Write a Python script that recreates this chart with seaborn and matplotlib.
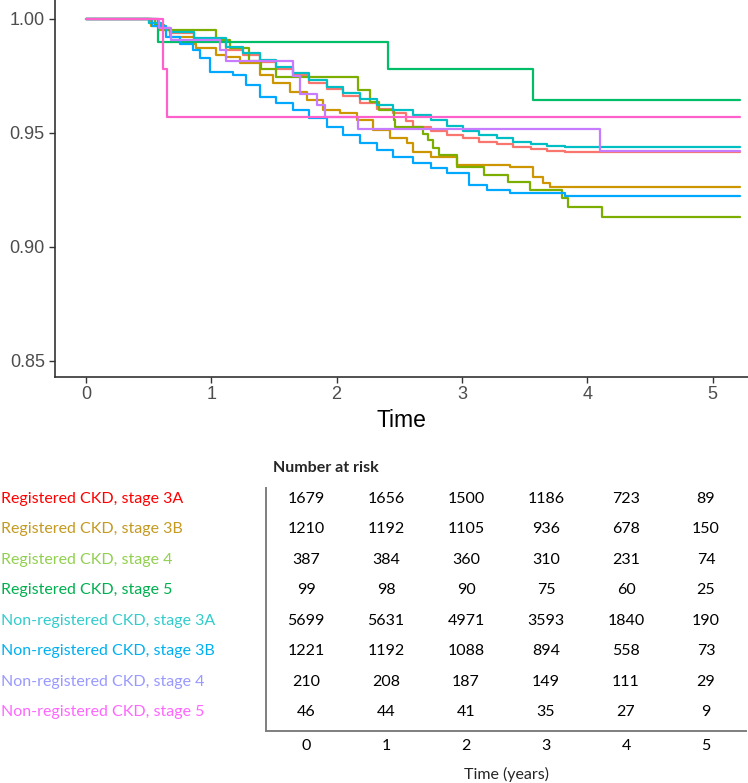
import numpy as np
import pandas as pd
import matplotlib
matplotlib.use("Agg")
import matplotlib.pyplot as plt
import matplotlib.transforms as mtransforms
import seaborn as sns

# ===============================
# Donnees
# ===============================
groups = [
    "Registered CKD, stage 3A",
    "Registered CKD, stage 3B",
    "Registered CKD, stage 4",
    "Registered CKD, stage 5",
    "Non-registered CKD, stage 3A",
    "Non-registered CKD, stage 3B",
    "Non-registered CKD, stage 4",
    "Non-registered CKD, stage 5",
]
line_colors = ["#F8766D", "#CD9600", "#7CAE00", "#00BE67",
               "#00BFC4", "#00A9FF", "#C77CFF", "#FF61CC"]
label_colors = ["#FF0000", "#C49A20", "#92D050", "#00B050",
                "#33CCCC", "#00B0F0", "#9999FF", "#FF66FF"]

t_end = 5.22

reg3a_t = [0, 0.50, 0.60, 0.67, 0.86, 1.12, 1.25, 1.39, 1.52, 1.65, 1.78, 1.92, 2.05, 2.19,
           2.32, 2.45, 2.55, 2.61, 2.75, 2.88, 3.01, 3.14, 3.28, 3.41, 3.55, 3.68, 3.82]
reg3a_s = [1.0, 0.998, 0.996, 0.9936, 0.9907, 0.9863, 0.984, 0.9812, 0.978, 0.9753, 0.972,
           0.969, 0.966, 0.9629, 0.9605, 0.9585, 0.955, 0.9527, 0.951, 0.949, 0.9475,
           0.9461, 0.945, 0.9439, 0.943, 0.9422, 0.9417]

reg3b_t = [0, 0.52, 0.58, 0.67, 0.86, 0.88, 1.04, 1.12, 1.23, 1.39, 1.49, 1.63, 1.76, 1.89,
           2.03, 2.16, 2.29, 2.43, 2.56, 2.61, 2.75, 2.96, 3.38, 3.57, 3.65, 3.70]
reg3b_s = [1.0, 0.997, 0.995, 0.992, 0.989, 0.987, 0.984, 0.9834, 0.9804, 0.9753, 0.9717,
           0.968, 0.9644, 0.960, 0.9585, 0.9556, 0.9512, 0.9476, 0.9454, 0.9417, 0.9395,
           0.936, 0.935, 0.9308, 0.9279, 0.9264]

reg4_t = [0, 0.55, 0.62, 1.04, 1.15, 1.30, 1.40, 1.52, 2.17, 2.27, 2.34, 2.46, 2.47, 2.69,
          2.73, 2.77, 2.82, 2.96, 3.18, 3.37, 3.54, 3.80, 3.85, 4.12]
reg4_s = [1.0, 0.9974, 0.9950, 0.9905, 0.987, 0.9815, 0.978, 0.9745, 0.9688, 0.9636,
          0.960, 0.9556, 0.9527, 0.9495, 0.9468, 0.9432, 0.9403, 0.9351, 0.9315, 0.9286,
          0.925, 0.9215, 0.9176, 0.9132]

reg5_t = [0, 0.575, 2.41, 3.565]
reg5_s = [1.0, 0.990, 0.978, 0.9644]

non3a_t = [0, 0.50, 0.60, 0.67, 0.86, 1.12, 1.25, 1.39, 1.52, 1.65, 1.78, 1.92, 2.05, 2.19,
           2.32, 2.45, 2.61, 2.75, 2.88, 3.01, 3.14, 3.28, 3.41, 3.55, 3.68, 3.82]
non3a_s = [1.0, 0.998, 0.996, 0.9943, 0.9914, 0.9877, 0.985, 0.9819, 0.979, 0.976, 0.973,
           0.970, 0.9675, 0.9647, 0.962, 0.960, 0.9578, 0.9555, 0.953, 0.951, 0.949,
           0.9475, 0.9461, 0.945, 0.9443, 0.9439]

non3b_t = [0, 0.53, 0.64, 0.75, 0.85, 0.91, 0.99, 1.17, 1.28, 1.39, 1.52, 1.65, 1.78, 1.92,
           2.05, 2.19, 2.32, 2.45, 2.61, 2.75, 2.88, 3.06, 3.20, 3.38, 3.82]
non3b_s = [1.0, 0.997, 0.992, 0.989, 0.9863, 0.9828, 0.9768, 0.9753, 0.971, 0.9658, 0.963,
           0.960, 0.9565, 0.9527, 0.949, 0.9454, 0.9425, 0.9395, 0.9366, 0.9345, 0.9322,
           0.927, 0.925, 0.9238, 0.9223]

non4_t = [0, 0.58, 0.68, 1.07, 1.12, 1.65, 1.71, 1.84, 1.91, 2.17, 4.10]
non4_s = [1.0, 0.9958, 0.9907, 0.9863, 0.9815, 0.9748, 0.9670, 0.9622, 0.957, 0.9515, 0.9422]

non5_t = [0, 0.615, 0.644]
non5_s = [1.0, 0.978, 0.957]

curves_t = [reg3a_t, reg3b_t, reg4_t, reg5_t, non3a_t, non3b_t, non4_t, non5_t]
curves_s = [reg3a_s, reg3b_s, reg4_s, reg5_s, non3a_s, non3b_s, non4_s, non5_s]

# Number at risk
risk_times = [0, 1, 2, 3, 4, 5]
risk_reg3a = [1679, 1656, 1500, 1186, 723, 89]
risk_reg3b = [1210, 1192, 1105, 936, 678, 150]
risk_reg4 = [387, 384, 360, 310, 231, 74]
risk_reg5 = [99, 98, 90, 75, 60, 25]
risk_non3a = [5699, 5631, 4971, 3593, 1840, 190]
risk_non3b = [1221, 1192, 1088, 894, 558, 73]
risk_non4 = [210, 208, 187, 149, 111, 29]
risk_non5 = [46, 44, 41, 35, 27, 9]
risk_rows = [risk_reg3a, risk_reg3b, risk_reg4, risk_reg5,
             risk_non3a, risk_non3b, risk_non4, risk_non5]

# ===============================
# Tableau long pour seaborn
# ===============================
frames = []
for g, t, s in zip(groups, curves_t, curves_s):
    frames.append(pd.DataFrame({"time": t + [t_end], "surv": s + [s[-1]], "group": g}))
df = pd.concat(frames, ignore_index=True)

sns.set_style("ticks")
plt.rcParams["font.family"] = ["Liberation Sans", "DejaVu Sans"]

W, H = 748, 783
fig = plt.figure(figsize=(W / 100, H / 100), dpi=100)

# --- courbes de survie ---
ax = fig.add_axes([54.5 / W, 1 - 376.7 / H, 1 - 54.5 / W, 376.7 / H])
sns.lineplot(data=df, x="time", y="surv", hue="group", hue_order=groups,
             palette=line_colors, estimator=None, drawstyle="steps-post",
             linewidth=1.6, legend=False, ax=ax)
px_per_t = 125.3
ax.set_xlim((54.5 - 86) / px_per_t, (W - 86) / px_per_t)
ax.set_ylim(0.8431, 1.0082)
ax.set_xticks([0, 1, 2, 3, 4, 5])
ax.set_yticks([0.85, 0.90, 0.95, 1.00])
ax.set_yticklabels(["0.85", "0.90", "0.95", "1.00"])
ax.tick_params(length=4, width=1, color="#333333", labelcolor="#4D4D4D",
               labelsize=13, pad=3)
for side in ["top", "right"]:
    ax.spines[side].set_visible(False)
for side in ["left", "bottom"]:
    ax.spines[side].set_color("#333333")
    ax.spines[side].set_linewidth(1.2)
ax.set_xlabel("Time", fontsize=16.5, color="black", labelpad=4)
ax.set_ylabel("")

# --- tableau des effectifs ---
tfont = ["Lato", "DejaVu Sans"]
tax = fig.add_axes([266 / W, 1 - 731 / H, (746 - 266) / W, (731 - 488) / H])
tax.set_xlim(-0.5, 5.5)
tax.set_ylim(0.38, 8.36)
n = len(groups)
for i, row in enumerate(risk_rows):
    ypos = n - i
    for x, v in zip(risk_times, row):
        tax.text(x, ypos, str(v), ha="center", va="center", fontsize=11.5,
                 family=tfont, color="black")
trans = mtransforms.blended_transform_factory(fig.transFigure, tax.transData)
for i, (g, c) in enumerate(zip(groups, label_colors)):
    tax.text(1 / W, n - i, g, transform=trans, ha="left", va="center",
             fontsize=11.5, family=tfont, color=c)
tax.set_xticks(risk_times)
tax.set_xticklabels([str(x) for x in risk_times], family=tfont, fontsize=11.5)
tax.set_yticks([])
tax.tick_params(axis="x", length=0, pad=6, labelcolor="black")
for side in ["top", "right"]:
    tax.spines[side].set_visible(False)
for side in ["left", "bottom"]:
    tax.spines[side].set_color("#7F7F7F")
    tax.spines[side].set_linewidth(1.4)
tax.set_xlabel("Time (years)", family=tfont, fontsize=11.5, labelpad=10)
tax.set_facecolor("none")
fig.text(273 / W, 1 - 468 / H, "Number at risk", family=tfont, fontsize=11.5,
         weight="bold", ha="left", va="center")

fig.savefig("out.png", dpi=100)
